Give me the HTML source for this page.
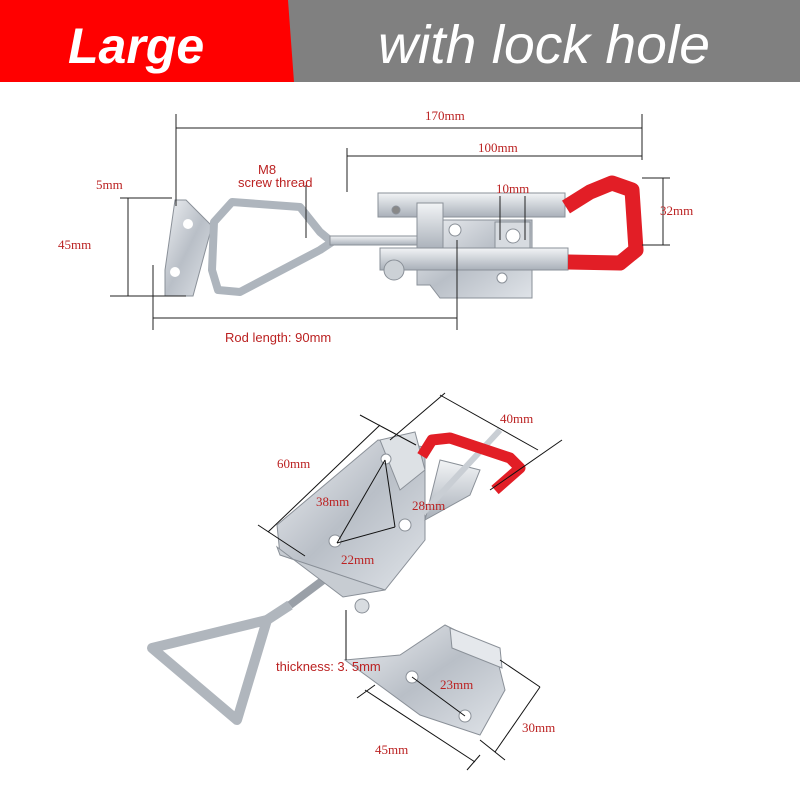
<!DOCTYPE html>
<html><head><meta charset="utf-8"><style>
html,body{margin:0;padding:0;background:#fff;}
svg{display:block}
</style></head><body>
<svg width="800" height="800" viewBox="0 0 800 800" xmlns="http://www.w3.org/2000/svg">
<defs>
<linearGradient id="m" x1="0" y1="0" x2="1" y2="1">
<stop offset="0" stop-color="#eef0f3"/><stop offset="0.5" stop-color="#b9bfc7"/><stop offset="1" stop-color="#dfe3e8"/>
</linearGradient>
<linearGradient id="m2" x1="0" y1="0" x2="0" y2="1">
<stop offset="0" stop-color="#f2f4f6"/><stop offset="1" stop-color="#a9b0b9"/>
</linearGradient>
</defs>
<rect x="0" y="0" width="800" height="82" fill="#808080"/>
<polygon points="0,0 288,0 294,82 0,82" fill="#ff0000"/>
<text x="68" y="63" font-family="Liberation Sans, DejaVu Sans, sans-serif" font-size="50" font-style="italic" font-weight="bold" fill="#fff">Large</text>
<text x="378" y="63" textLength="332" lengthAdjust="spacingAndGlyphs" font-family="Liberation Sans, DejaVu Sans, sans-serif" font-size="54" font-style="italic" fill="#fff">with lock hole</text>

<!-- TOP LATCH -->
<g stroke="#8a9098" stroke-width="1">
<polygon points="175,200 186,200 212,226 193,296 165,296 165,270" fill="url(#m)"/>
<path d="M232,202 L300,207 L320,232 L332,242 L320,250 L240,292 L218,290 L212,270 L214,222 Z" fill="none" stroke="#aeb5bd" stroke-width="8" stroke-linejoin="round"/>
<rect x="330" y="236" width="90" height="9" fill="url(#m2)"/>
<polygon points="417,220 532,220 532,298 440,298 430,285 417,285" fill="url(#m)"/>
<rect x="378" y="193" width="187" height="24" fill="url(#m2)"/>
<rect x="417" y="203" width="26" height="47" fill="url(#m2)"/>
<rect x="380" y="248" width="188" height="22" fill="url(#m2)"/>
<circle cx="394" cy="270" r="10" fill="#ccd1d6"/>
<rect x="495" y="222" width="35" height="26" fill="#d7dbe0"/>
<circle cx="513" cy="236" r="7" fill="#fff"/>
<circle cx="502" cy="278" r="5" fill="#fff"/>
<circle cx="455" cy="230" r="6" fill="#fff"/>
<circle cx="396" cy="210" r="4" fill="#888"/>
</g>
<path d="M566,207 L590,192 L612,183 L632,190 L636,250 L620,263 L568,262" fill="none" stroke="#e21e26" stroke-width="15" stroke-linejoin="round"/>
<circle cx="188" cy="224" r="5" fill="#fff"/><circle cx="175" cy="272" r="5" fill="#fff"/>

<g stroke="#222" stroke-width="1" fill="none">
<line x1="176" y1="128" x2="642" y2="128"/><line x1="176" y1="114" x2="176" y2="206"/><line x1="642" y1="114" x2="642" y2="160"/>
<line x1="347" y1="156" x2="642" y2="156"/><line x1="347" y1="148" x2="347" y2="192"/>
<line x1="663" y1="178" x2="663" y2="245"/><line x1="642" y1="178" x2="670" y2="178"/><line x1="642" y1="245" x2="670" y2="245"/>
<line x1="128" y1="198" x2="128" y2="296"/><line x1="120" y1="198" x2="172" y2="198"/><line x1="110" y1="296" x2="186" y2="296"/>
<line x1="153" y1="318" x2="457" y2="318"/><line x1="153" y1="265" x2="153" y2="330"/><line x1="457" y1="240" x2="457" y2="330"/>
<line x1="306" y1="185" x2="306" y2="238"/>
<line x1="500" y1="196" x2="500" y2="240"/><line x1="525" y1="196" x2="525" y2="240"/>
</g>
<g font-family="Liberation Serif, serif" font-size="13" fill="#b22">
<text x="425" y="120">170mm</text>
<text x="478" y="152">100mm</text>
<text x="96" y="189">5mm</text>
<text x="58" y="249">45mm</text>
<text x="496" y="193">10mm</text>
<text x="660" y="215">32mm</text>
</g>
<g font-family="Liberation Sans, sans-serif" font-size="13" fill="#b22">
<text x="258" y="174">M8</text>
<text x="238" y="187">screw thread</text>
<text x="225" y="342">Rod length: 90mm</text>
</g>

<!-- BOTTOM LATCH -->
<g stroke="#8a9098" stroke-width="1">
<path d="M152,648 L267,620 L237,720 Z" fill="none" stroke="#b0b6bd" stroke-width="10" stroke-linejoin="round"/>
<path d="M267,620 L290,605" stroke="#b0b6bd" stroke-width="10"/>
<line x1="290" y1="605" x2="330" y2="575" stroke="#9aa0a8" stroke-width="8"/>
<polygon points="277,525 378,440 425,447 425,540 385,590 280,555" fill="url(#m)"/>
<polygon points="277,547 343,597 385,590 280,555" fill="#c7ccd2"/>
<polygon points="380,440 415,432 425,470 400,490" fill="#dde1e5"/>
<polygon points="425,520 470,495 480,470 440,460" fill="url(#m2)"/>
<line x1="423" y1="513" x2="500" y2="430" stroke="#c9ced4" stroke-width="6"/>
<circle cx="386" cy="459" r="5" fill="#fff"/><circle cx="405" cy="525" r="6" fill="#fff"/><circle cx="335" cy="541" r="6" fill="#fff"/>
<circle cx="362" cy="606" r="7" fill="#d8dce0"/>
<polygon points="345,660 400,655 445,625 495,650 505,690 480,735 420,715" fill="url(#m)"/>
<polygon points="450,628 500,648 502,668 452,648" fill="#e5e8ec"/>
<circle cx="412" cy="677" r="6" fill="#fff"/><circle cx="465" cy="716" r="6" fill="#fff"/>
</g>
<path d="M422,456 L432,440 L450,438 L510,458 L520,468 L495,490" fill="none" stroke="#e21e26" stroke-width="11" stroke-linejoin="round"/>
<g stroke="#111" stroke-width="1" fill="none">
<line x1="268" y1="532" x2="380" y2="425"/><line x1="258" y1="525" x2="305" y2="556"/><line x1="360" y1="415" x2="416" y2="445"/>
<line x1="390" y1="440" x2="445" y2="393"/><line x1="440" y1="395" x2="538" y2="450"/><line x1="490" y1="490" x2="562" y2="440"/>
<line x1="385" y1="460" x2="337" y2="543"/><line x1="385" y1="460" x2="395" y2="527"/><line x1="337" y1="543" x2="395" y2="527"/>
<line x1="346" y1="610" x2="346" y2="660"/>
<line x1="412" y1="677" x2="465" y2="716"/>
<line x1="365" y1="690" x2="475" y2="762"/><line x1="357" y1="698" x2="375" y2="685"/><line x1="467" y1="770" x2="480" y2="755"/>
<line x1="500" y1="660" x2="540" y2="687"/><line x1="540" y1="687" x2="495" y2="752"/><line x1="480" y1="740" x2="505" y2="760"/>
</g>
<g font-family="Liberation Serif, serif" font-size="13" fill="#b22">
<text x="277" y="468">60mm</text>
<text x="500" y="423">40mm</text>
<text x="316" y="506">38mm</text>
<text x="412" y="510">28mm</text>
<text x="341" y="564">22mm</text>
<text x="440" y="689">23mm</text>
<text x="522" y="732">30mm</text>
<text x="375" y="754">45mm</text>
</g>
<text x="276" y="671" font-family="Liberation Sans, sans-serif" font-size="13" fill="#b22">thickness: 3. 5mm</text>
</svg>
</body></html>
